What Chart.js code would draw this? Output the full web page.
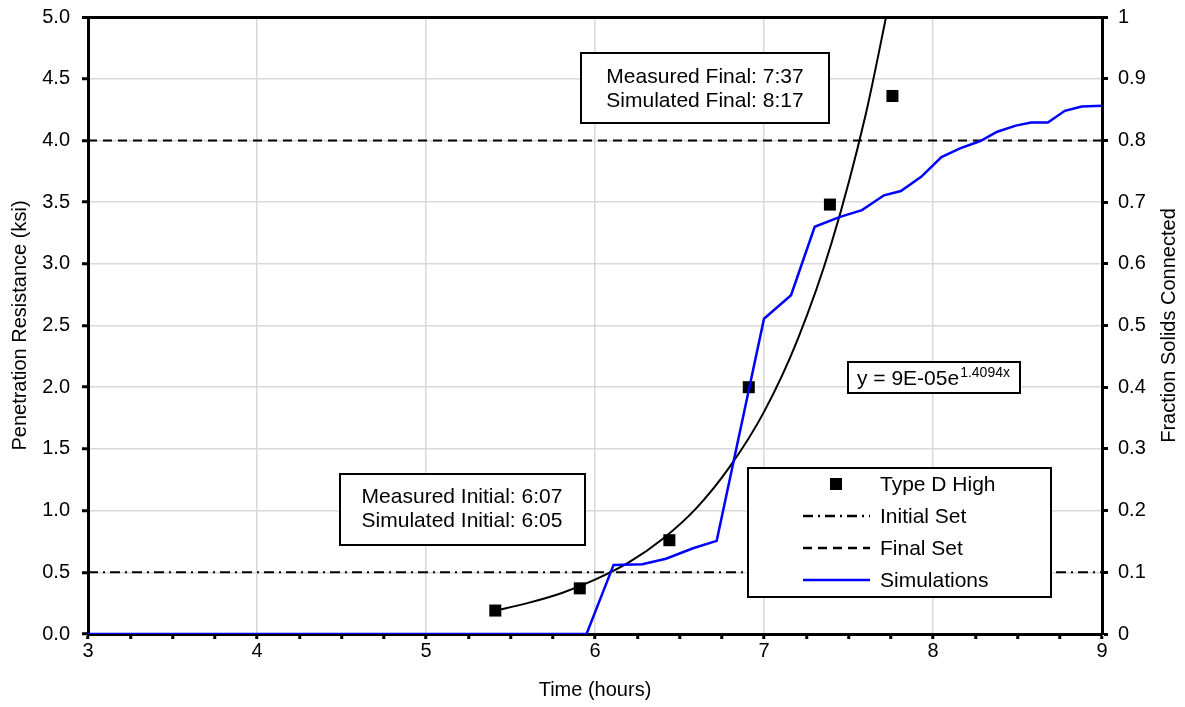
<!DOCTYPE html>
<html>
<head>
<meta charset="utf-8">
<script src="https://cdn.jsdelivr.net/npm/chart.js@4.4.0/dist/chart.umd.min.js"></script>
<style>
  body { margin: 0; background: #fff; }
  #wrap { width: 1185px; height: 707px; position: relative; }
</style>
</head>
<body>
<div id="wrap"><canvas id="setChart"></canvas></div>
<script>
// measured penetration resistance (Type D High)
const measuredTime = [5.41, 5.91, 6.44, 6.91, 7.39, 7.76];
const measuredKsi = [0.19, 0.37, 0.76, 2.0, 3.48, 4.36];

// exponential trendline, points
const trendTime = [5.41, 5.6, 5.8, 6.0, 6.2, 6.4, 6.6, 6.8, 7.0, 7.2, 7.4, 7.6, 7.73];
const trendKsi = [0.19, 0.25, 0.33, 0.44, 0.58, 0.77, 1.02, 1.36, 1.8, 2.39, 3.17, 4.2, 5.05];

// simulated fraction of solids connected (right axis)
const simTime = [3, 5.95, 6.11, 6.28, 6.42, 6.58, 6.72, 7.0, 7.16, 7.3, 7.45, 7.58, 7.71, 7.81, 7.93, 8.05, 8.16, 8.28, 8.38, 8.49, 8.58, 8.68, 8.78, 8.88, 9.0];
const simFraction = [0, 0, 0.112, 0.113, 0.122, 0.139, 0.151, 0.511, 0.549, 0.66, 0.676, 0.687, 0.711, 0.718, 0.741, 0.773, 0.787, 0.799, 0.814, 0.824, 0.829, 0.829, 0.848, 0.855, 0.856];

// set thresholds (ksi)
const setTime = [3, 9];
const initialSetKsi = [0.5, 0.5];
const finalSetKsi = [4.0, 4.0];

const FONT = '"Liberation Sans", Arial, sans-serif';
const DASH_DOT = [10, 5, 2, 5];
const DASHED = [9, 6];

const toPoints = (xs, ys) => xs.map((x, i) => ({ x: x, y: ys[i] }));

Chart.defaults.color = '#000';
Chart.defaults.font.family = FONT;
Chart.defaults.font.size = 20;

function drawBox(ctx, x, y, w, h) {
    ctx.fillStyle = '#fff';
    ctx.fillRect(x, y, w, h);
    ctx.strokeStyle = '#000';
    ctx.lineWidth = 2;
    ctx.setLineDash([]);
    ctx.strokeRect(x, y, w, h);
}

function legendLine(ctx, y, color, dash) {
    ctx.beginPath();
    ctx.strokeStyle = color;
    ctx.lineWidth = 2.5;
    ctx.setLineDash(dash);
    ctx.moveTo(803, y);
    ctx.lineTo(870, y);
    ctx.stroke();
    ctx.setLineDash([]);
}

// text boxes, legend and right axis title drawn on top of the plot
const annotationPlugin = {
    id: 'annotations',
    afterDatasetsDraw(chart) {
        const ctx = chart.ctx;
        ctx.save();

        // final set box
        drawBox(ctx, 581, 53, 248, 70);
        ctx.fillStyle = '#000';
        ctx.font = '21px ' + FONT;
        ctx.textAlign = 'center';
        ctx.textBaseline = 'middle';
        ctx.fillText('Measured Final: 7:37', 705, 77);
        ctx.fillText('Simulated Final: 8:17', 705, 101);

        // initial set box
        drawBox(ctx, 340, 474, 245, 71);
        ctx.fillStyle = '#000';
        ctx.fillText('Measured Initial: 6:07', 462, 497);
        ctx.fillText('Simulated Initial: 6:05', 462, 521);

        // trendline equation
        drawBox(ctx, 848, 362, 172, 31);
        ctx.fillStyle = '#000';
        ctx.textAlign = 'left';
        ctx.textBaseline = 'alphabetic';
        ctx.font = '21px ' + FONT;
        const eq = 'y = 9E-05e';
        ctx.fillText(eq, 857, 385);
        const eqW = ctx.measureText(eq).width;
        ctx.font = '14px ' + FONT;
        ctx.fillText('1.4094x', 857 + eqW + 1, 377);

        // legend
        drawBox(ctx, 748, 468, 303, 129);
        ctx.fillStyle = '#000';
        ctx.fillRect(830, 478, 12, 12);
        legendLine(ctx, 516, '#000', DASH_DOT);
        legendLine(ctx, 548, '#000', DASHED);
        legendLine(ctx, 580, '#0000ff', []);
        ctx.fillStyle = '#000';
        ctx.font = '21px ' + FONT;
        ctx.textBaseline = 'middle';
        ctx.fillText('Type D High', 880, 485);
        ctx.fillText('Initial Set', 880, 517);
        ctx.fillText('Final Set', 880, 549);
        ctx.fillText('Simulations', 880, 581);

        // right axis title reads bottom to top
        const area = chart.chartArea;
        ctx.translate(1169, (area.top + area.bottom) / 2);
        ctx.rotate(-Math.PI / 2);
        ctx.font = '20px ' + FONT;
        ctx.textAlign = 'center';
        ctx.fillText('Fraction Solids Connected', 0, 0);

        ctx.restore();
    }
};

const isWhole = v => Math.abs(v - Math.round(v)) < 1e-6;

const ctx = document.getElementById('setChart').getContext('2d');
const setChart = new Chart(ctx, {
    type: 'scatter',
    data: {
        datasets: [{
            label: 'Simulations',
            data: toPoints(simTime, simFraction),
            showLine: true,
            borderColor: '#0000ff',
            borderWidth: 2.5,
            pointRadius: 0,
            yAxisID: 'y1',
            order: 0
        }, {
            label: 'Type D High',
            data: toPoints(measuredTime, measuredKsi),
            showLine: false,
            pointStyle: 'rect',
            pointRadius: 8.5,
            backgroundColor: '#000',
            borderColor: '#000',
            borderWidth: 0,
            yAxisID: 'y',
            order: 1
        }, {
            label: 'Trendline',
            data: toPoints(trendTime, trendKsi),
            showLine: true,
            borderColor: '#000',
            borderWidth: 2,
            pointRadius: 0,
            cubicInterpolationMode: 'monotone',
            yAxisID: 'y',
            order: 2
        }, {
            label: 'Initial Set',
            data: toPoints(setTime, initialSetKsi),
            showLine: true,
            borderColor: '#000',
            borderWidth: 2,
            borderDash: DASH_DOT,
            pointRadius: 0,
            yAxisID: 'y',
            order: 3
        }, {
            label: 'Final Set',
            data: toPoints(setTime, finalSetKsi),
            showLine: true,
            borderColor: '#000',
            borderWidth: 2,
            borderDash: DASHED,
            pointRadius: 0,
            yAxisID: 'y',
            order: 3
        }]
    },
    options: {
        responsive: true,
        maintainAspectRatio: false,
        animation: false,
        layout: { padding: { top: 17, left: 0, right: 0, bottom: 0 } },
        plugins: {
            legend: { display: false },
            tooltip: { enabled: false }
        },
        scales: {
            x: {
                type: 'linear',
                min: 3,
                max: 9,
                afterFit: s => {
                    s.height = 73;
                    s.paddingLeft = 0;
                    s.paddingRight = 0;
                },
                ticks: {
                    stepSize: 0.25,
                    autoSkip: false,
                    maxRotation: 0,
                    padding: 0,
                    callback: v => isWhole(v) ? String(Math.round(v)) : ''
                },
                grid: {
                    color: c => isWhole(c.tick.value) ? '#d9d9d9' : 'rgba(0,0,0,0)',
                    lineWidth: 1.5,
                    tickColor: '#000',
                    tickLength: 5,
                    tickWidth: 3
                },
                border: { color: '#000', width: 3 },
                title: {
                    display: true,
                    text: 'Time (hours)',
                    padding: { top: 0, bottom: 5 }
                }
            },
            y: {
                type: 'linear',
                position: 'left',
                min: 0,
                max: 5,
                afterFit: s => {
                    s.width = 88;
                    s.paddingTop = 0;
                    s.paddingBottom = 0;
                },
                ticks: {
                    stepSize: 0.5,
                    padding: 12,
                    callback: v => v.toFixed(1)
                },
                grid: {
                    color: c => c.tick.value === 5 ? '#000' : '#d9d9d9',
                    lineWidth: c => c.tick.value === 5 ? 3 : 1.5,
                    tickColor: '#000',
                    tickLength: 6,
                    tickWidth: 3
                },
                border: { color: '#000', width: 3 },
                title: {
                    display: true,
                    text: 'Penetration Resistance (ksi)',
                    padding: { top: 8, bottom: 0 }
                }
            },
            y1: {
                type: 'linear',
                position: 'right',
                min: 0,
                max: 1,
                afterFit: s => {
                    s.width = 83;
                    s.paddingTop = 0;
                    s.paddingBottom = 0;
                },
                ticks: {
                    stepSize: 0.1,
                    padding: 10,
                    callback: v => String(Number(v.toFixed(1)))
                },
                grid: {
                    drawOnChartArea: false,
                    tickColor: '#000',
                    tickLength: 6,
                    tickWidth: 3
                },
                border: { color: '#000', width: 3 },
                title: { display: false }
            }
        }
    },
    plugins: [annotationPlugin]
});
</script>
</body>
</html>
